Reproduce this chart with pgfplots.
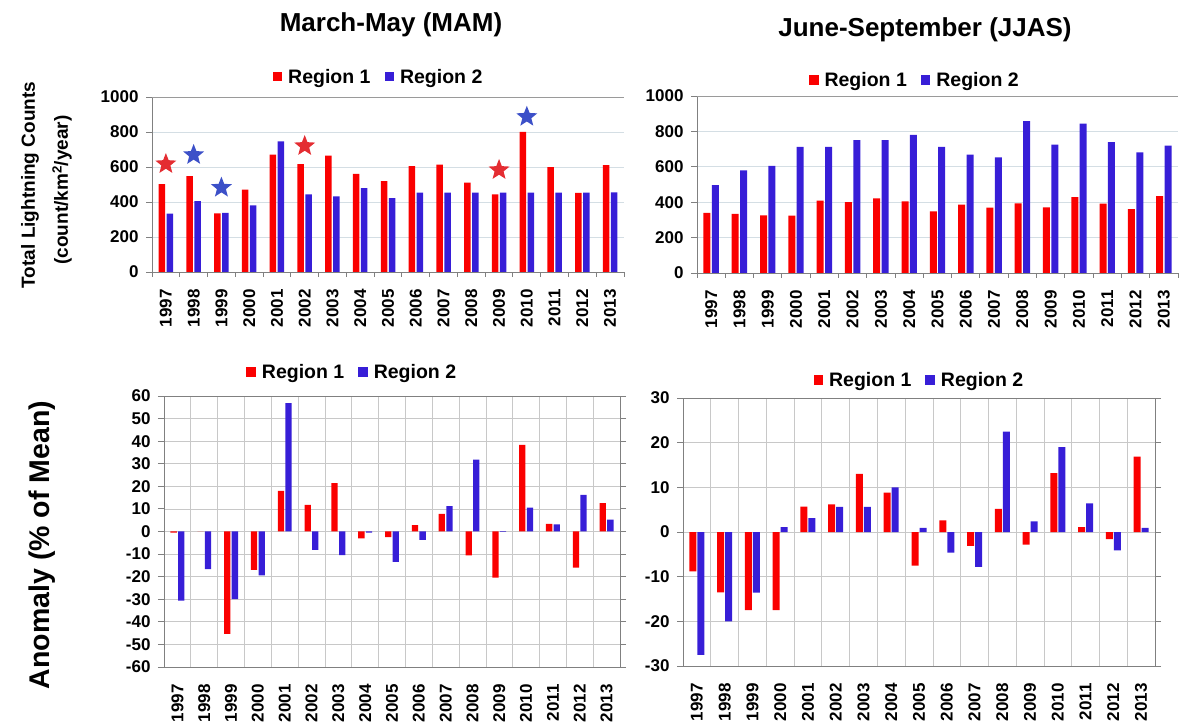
\documentclass[border=0pt]{standalone}
\usepackage{pgfplots}
\pgfplotsset{compat=1.18}
\usepackage{fontspec}
\setmainfont{Liberation Sans}
\definecolor{rred}{RGB}{250,0,0}
\definecolor{bblue}{RGB}{55,30,215}
\definecolor{sred}{RGB}{228,45,50}
\definecolor{sblue}{RGB}{60,80,200}
\definecolor{axgray}{RGB}{128,128,128}
\definecolor{gridc}{RGB}{212,222,228}
\definecolor{gridd}{RGB}{200,200,200}
\pgfdeclareplotmark{fstar}{%
 \pgfpathmoveto{\pgfpointpolar{90}{\pgfplotmarksize}}%
 \pgfpathlineto{\pgfpointpolar{126}{0.43\pgfplotmarksize}}%
 \pgfpathlineto{\pgfpointpolar{162}{\pgfplotmarksize}}%
 \pgfpathlineto{\pgfpointpolar{198}{0.43\pgfplotmarksize}}%
 \pgfpathlineto{\pgfpointpolar{234}{\pgfplotmarksize}}%
 \pgfpathlineto{\pgfpointpolar{270}{0.43\pgfplotmarksize}}%
 \pgfpathlineto{\pgfpointpolar{306}{\pgfplotmarksize}}%
 \pgfpathlineto{\pgfpointpolar{342}{0.43\pgfplotmarksize}}%
 \pgfpathlineto{\pgfpointpolar{18}{\pgfplotmarksize}}%
 \pgfpathlineto{\pgfpointpolar{54}{0.43\pgfplotmarksize}}%
 \pgfpathclose
 \pgfusepathqfill}
\pgfplotsset{
 sq/.style={legend image code/.code={\fill[#1] (0pt,-4.7pt) rectangle (9.5pt,4.7pt);}},
 base/.style={scale only axis, xmin=-0.5, xmax=16.5,
  xtick={0,...,16},
  xticklabels={1997,1998,1999,2000,2001,2002,2003,2004,2005,2006,2007,2008,2009,2010,2011,2012,2013},
  minor xtick={-0.5,0.5,...,16.5},
  major x tick style={draw=none},
  tick align=outside, major tick length=6pt, minor tick length=5pt,
  /pgf/number format/assume math mode=true,
  /pgf/number format/1000 sep={},
  tick label style={font=\fontsize{17}{20}\selectfont\bfseries, black},
  xticklabel style={rotate=90, anchor=east, xshift=-8pt},
  yticklabel style={xshift=-4pt},
  legend columns=2,
  legend style={draw=none, fill=none, anchor=center,
    font=\fontsize{19.5}{22}\selectfont\bfseries,
    /tikz/every odd column/.append style={column sep=4pt},
    /tikz/every even column/.append style={column sep=12pt}},
 },
 top/.style={base, axis x line*=bottom, axis y line*=left,
  axis line style={axgray, line width=0.9pt},
  every tick/.style={axgray, line width=0.9pt},
  ymajorgrids, major grid style={gridc, line width=0.8pt},
  ymin=0, ymax=1000, ytick={0,200,...,1000},
  extra y ticks={1000}, extra y tick labels={},
  extra y tick style={major grid style={axgray!80, line width=0.8pt}, major tick length=0pt}},
 bot/.style={base, axis line style={axgray, line width=0.9pt},
  every tick/.style={axgray, line width=0.9pt},
  ymajorgrids, xminorgrids, minor tick length=0pt,
  major grid style={gridd, line width=0.7pt},
  minor grid style={gridd, line width=0.7pt}},
}
\begin{document}
\begin{tikzpicture}
\useasboundingbox (0,0) rectangle (1179pt,726pt);
\node[font=\fontsize{26}{30}\selectfont\bfseries] at (391pt,701pt) {March-May (MAM)};
\node[font=\fontsize{26}{30}\selectfont\bfseries] at (925pt,696pt) {June-September (JJAS)};
\node[rotate=90, font=\fontsize{19}{22}\selectfont\bfseries] at (30pt,541pt) {Total Lightning Counts};
\node[rotate=90, font=\fontsize{19}{22}\selectfont\bfseries] at (62pt,536pt) {(count/km\textsuperscript{2}/year)};
\node[rotate=90, font=\fontsize{28.5}{32}\selectfont\bfseries] at (42pt,181pt) {Anomaly (\% of Mean)};

% (a)
\begin{axis}[top, at={(152pt,454pt)}, anchor=south west, width=472pt, height=175pt,
  legend style={at={(axis description cs:0.480,1.116)}}]
\addplot[ybar, bar width=6.5pt, bar shift=-4pt, fill=rred, draw=none, sq=rred] coordinates {
(0,502) (1,548) (2,335) (3,470) (4,671) (5,616) (6,665) (7,561) (8,519) (9,605) (10,614) (11,510) (12,443) (13,800) (14,599) (15,452) (16,610)};
\addlegendentry{Region 1}
\addplot[ybar, bar width=6.5pt, bar shift=4pt, fill=bblue, draw=none, sq=bblue] coordinates {
(0,333) (1,405) (2,338) (3,380) (4,747) (5,443) (6,432) (7,479) (8,422) (9,454) (10,454) (11,454) (12,454) (13,454) (14,454) (15,454) (16,455)};
\addlegendentry{Region 2}
\addplot[only marks, mark=fstar, mark size=11pt, sred, forget plot] coordinates {(0,617) (5,720) (12,583)};
\addplot[only marks, mark=fstar, mark size=11pt, sblue, forget plot] coordinates {(1,669) (2,482) (13,887)};
\node[anchor=west, font=\fontsize{25}{28}\selectfont\bfseries, inner sep=0pt] at (axis description cs:0.004,1.109) {(a)};
\end{axis}

% (b)
\begin{axis}[top, at={(697pt,453pt)}, anchor=south west, width=481pt, height=177pt,
  legend style={at={(axis description cs:0.453,1.090)}}]
\addplot[ybar, bar width=7pt, bar shift=-4.2pt, fill=rred, draw=none, sq=rred] coordinates {
(0,339) (1,334) (2,325) (3,324) (4,409) (5,400) (6,422) (7,405) (8,348) (9,386) (10,369) (11,394) (12,371) (13,428) (14,392) (15,361) (16,434)};
\addlegendentry{Region 1}
\addplot[ybar, bar width=7pt, bar shift=4.2pt, fill=bblue, draw=none, sq=bblue] coordinates {
(0,496) (1,580) (2,605) (3,712) (4,712) (5,750) (6,750) (7,780) (8,712) (9,669) (10,653) (11,858) (12,725) (13,844) (14,740) (15,682) (16,719)};
\addlegendentry{Region 2}
\node[anchor=west, font=\fontsize{25}{28}\selectfont\bfseries, inner sep=0pt] at (axis description cs:-0.001,1.107) {(b)};
\end{axis}

% (c)
\begin{axis}[bot, at={(164pt,59pt)}, anchor=south west, width=456pt, height=271pt,
  ymin=-60, ymax=60, ytick={-60,-50,...,60},
  legend style={at={(axis description cs:0.413,1.089)}}]
\addplot[ybar, bar width=6.3pt, bar shift=-3.8pt, fill=rred, draw=none, sq=rred] coordinates {
(0,-0.5) (1,0) (2,-45.3) (3,-17.0) (4,18.0) (5,11.8) (6,21.4) (7,-3.0) (8,-2.5) (9,2.8) (10,7.8) (11,-10.6) (12,-20.4) (13,38.4) (14,3.4) (15,-16.0) (16,12.6)};
\addlegendentry{Region 1}
\addplot[ybar, bar width=6.3pt, bar shift=3.8pt, fill=bblue, draw=none, sq=bblue] coordinates {
(0,-30.6) (1,-16.7) (2,-30.0) (3,-19.4) (4,56.9) (5,-8.1) (6,-10.5) (7,-0.5) (8,-13.4) (9,-3.7) (10,11.2) (11,31.8) (12,-0.2) (13,10.6) (14,3.1) (15,16.2) (16,5.3)};
\addlegendentry{Region 2}
\node[anchor=west, font=\fontsize{25}{28}\selectfont\bfseries, inner sep=0pt] at (axis description cs:0.002,1.085) {(c)};
\end{axis}

% (d)
\begin{axis}[bot, at={(683pt,60pt)}, anchor=south west, width=472pt, height=268pt,
  ymin=-30, ymax=30, ytick={-30,-20,...,30},
  legend style={at={(axis description cs:0.501,1.067)}}]
\addplot[ybar, bar width=7pt, bar shift=-4pt, fill=rred, draw=none, sq=rred] coordinates {
(0,-8.8) (1,-13.5) (2,-17.5) (3,-17.5) (4,5.7) (5,6.2) (6,13.0) (7,8.8) (8,-7.5) (9,2.6) (10,-3.1) (11,5.2) (12,-2.8) (13,13.2) (14,1.1) (15,-1.6) (16,16.9)};
\addlegendentry{Region 1}
\addplot[ybar, bar width=7pt, bar shift=4pt, fill=bblue, draw=none, sq=bblue] coordinates {
(0,-27.5) (1,-20.0) (2,-13.6) (3,1.1) (4,3.1) (5,5.6) (6,5.6) (7,10.0) (8,0.9) (9,-4.6) (10,-7.8) (11,22.5) (12,2.4) (13,19.0) (14,6.4) (15,-4.1) (16,0.9)};
\addlegendentry{Region 2}
\node[anchor=west, font=\fontsize{25}{28}\selectfont\bfseries, inner sep=0pt] at (axis description cs:0.004,1.086) {(d)};
\end{axis}
\end{tikzpicture}
\end{document}
